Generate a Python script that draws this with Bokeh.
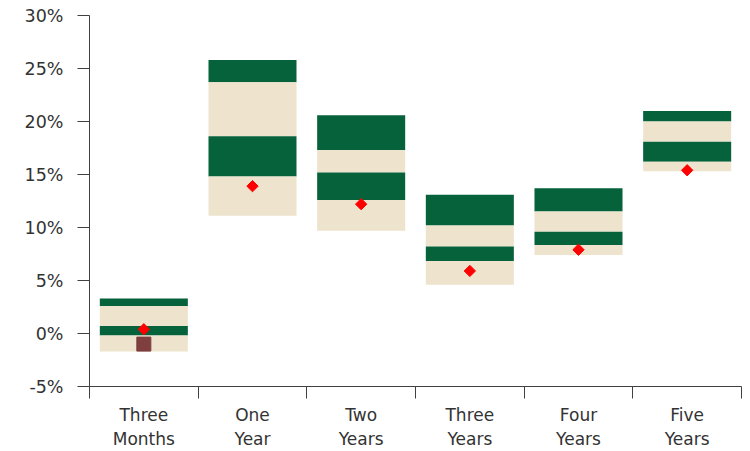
from bokeh.plotting import figure
from bokeh.models import Range1d, FixedTicker, PrintfTickFormatter, ColumnDataSource
from bokeh.embed import file_html
from bokeh.resources import INLINE
import numpy as np

# ---- data (percent) ----
categories = ["Three\nMonths", "One\nYear", "Two\nYears", "Three\nYears", "Four\nYears", "Five\nYears"]
top_vals = [3.3, 25.8, 20.6, 13.1, 13.7, 21.0]
upper_vals = [2.6, 23.7, 17.3, 10.2, 11.5, 20.0]
mid_vals = [0.7, 18.6, 15.2, 8.2, 9.6, 18.1]
lower_vals = [-0.2, 14.8, 12.6, 6.85, 8.35, 16.2]
bottom_vals = [-1.7, 11.1, 9.7, 4.6, 7.4, 15.3]
diamond_vals = [0.4, 13.9, 12.2, 5.9, 7.9, 15.4]
square_index = [0]
square_vals = [-1.0]
y_ticks = [-5, 0, 5, 10, 15, 20, 25, 30]

DARK = "#06623A"
TAN = "#EEE3CC"
TEXT = "#333333"
AXIS = "#404040"
FONT = "DejaVu Sans"

n = len(categories)
centers = [i + 0.5 for i in range(n)]
box_w = 0.81

p = figure(width=742, height=451, x_range=Range1d(0, n), y_range=Range1d(-5, 30),
           output_backend="svg", toolbar_location=None,
           min_border_left=89, min_border_right=1, min_border_top=15, min_border_bottom=63)
p.outline_line_color = None
p.xgrid.visible = False
p.ygrid.visible = False

# bands
bounds = [top_vals, upper_vals, mid_vals, lower_vals, bottom_vals]
colors = [DARK, TAN, DARK, TAN]
L, R, T, B, C = [], [], [], [], []
for i in range(n):
    for j in range(4):
        L.append(centers[i] - box_w / 2)
        R.append(centers[i] + box_w / 2)
        T.append(bounds[j][i])
        B.append(bounds[j + 1][i])
        C.append(colors[j])
p.quad(source=ColumnDataSource(dict(left=L, right=R, top=T, bottom=B, color=C)),
       left="left", right="right", top="top", bottom="bottom",
       fill_color="color", line_color=None)

# markers
p.scatter(x=centers, y=diamond_vals, marker="square", size=8, angle=np.pi / 4,
          fill_color="#FF0000", line_color="#FF0000")
p.scatter(x=[centers[i] for i in square_index], y=square_vals, marker="square", size=14,
          fill_color="#7F3F3F", line_color="#7F3F3F")

# y axis
ya = p.yaxis[0]
ya.ticker = FixedTicker(ticks=y_ticks, minor_ticks=[])
ya.formatter = PrintfTickFormatter(format="%d%%")
ya.major_tick_out = 12
ya.major_tick_in = 0
ya.major_label_standoff = 14
ya.axis_line_color = AXIS
ya.major_tick_line_color = AXIS
ya.major_label_text_font = FONT
ya.major_label_text_font_size = "17.5px"
ya.major_label_text_color = TEXT

# x axis
xa = p.xaxis[0]
xa.ticker = FixedTicker(ticks=centers, minor_ticks=list(range(n + 1)))
xa.major_label_overrides = {c: lab for c, lab in zip(centers, categories)}
xa.major_tick_out = 0
xa.major_tick_in = 0
xa.minor_tick_out = 12
xa.minor_tick_in = 0
xa.minor_tick_line_color = AXIS
xa.axis_line_color = AXIS
xa.major_label_standoff = 6
xa.major_label_text_font = FONT
xa.major_label_text_font_size = "17px"
xa.major_label_text_color = TEXT
xa.major_label_text_line_height = 1.2

open("out.html", "w").write(file_html(p, INLINE))
